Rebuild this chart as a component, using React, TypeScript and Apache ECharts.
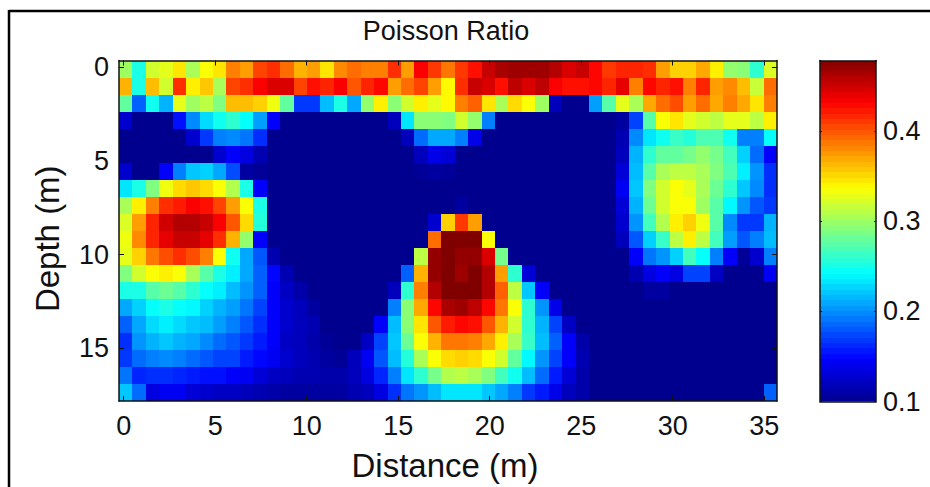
import React, { useEffect, useRef } from "react";
import * as echarts from "echarts";

// Colour-scale readings (percent of the colour bar) per depth row, 49 distance columns.
const row00 = [53,40,58,60,65,54,62,65,75,72,81,83,77,70,72,65,74,77,75,75,83,72,88,82,76,82,86,93,96,97,97,97,95,91,93,87,82,84,84,83,72,67,67,71,64,52,51,42,59];
const row01 = [70,40,69,58,83,64,68,54,81,83,88,91,91,81,86,84,88,79,84,87,72,77,81,72,63,83,93,91,86,94,91,94,88,86,86,87,84,90,75,87,84,86,75,84,72,74,69,57,77];
const row02 = [47,22,39,30,60,53,56,50,69,69,67,61,47,18,18,31,40,29,52,64,51,58,64,60,63,75,78,65,54,66,62,53,5,0,0,28,46,60,54,71,77,80,72,77,71,75,71,65,75];
const row03 = [7,0,0,0,14,26,34,39,42,38,28,12,0,0,0,0,0,0,0,0,5,35,51,51,50,58,52,25,0,0,0,0,0,0,0,0,0,2,19,46,62,65,60,58,56,60,60,56,64];
const row04 = [0,0,0,0,0,7,18,25,26,24,17,0,0,0,0,0,0,0,0,0,0,5,23,29,29,25,10,0,0,0,0,0,0,0,0,0,0,4,26,35,39,43,41,45,45,39,25,25,38];
const row05 = [0,0,0,0,0,0,0,7,12,9,4,0,0,0,0,0,0,0,0,0,0,0,5,10,8,0,0,0,0,0,0,0,0,0,0,0,0,5,30,42,47,47,49,52,49,44,33,23,12];
const row06 = [7,0,0,12,25,32,33,29,20,2,1,0,0,0,0,0,0,0,0,0,0,0,1,2,1,0,0,0,0,0,0,0,0,0,0,0,0,8,31,46,54,56,56,54,50,45,36,27,17];
const row07 = [35,40,50,61,66,68,66,62,55,40,12,0,0,0,0,0,0,0,0,0,0,0,0,0,0,0,0,0,0,0,0,0,0,0,0,0,0,11,32,50,58,62,60,54,48,42,32,26,17];
const row08 = [54,64,75,83,85,88,86,81,72,62,40,0,0,0,0,0,0,0,0,0,0,0,0,0,0,2,0,0,0,0,0,0,0,0,0,0,0,8,30,48,58,62,62,53,46,37,27,21,18];
const row09 = [59,72,84,92,95,95,93,88,79,66,41,0,0,0,0,0,0,0,0,0,0,0,0,7,67,82,72,0,0,0,0,0,0,0,0,0,0,7,27,44,55,64,67,61,46,26,18,18,30];
const row10 = [61,74,84,90,93,93,90,83,70,52,12,0,0,0,0,0,0,0,0,0,0,0,0,77,100,100,100,62,0,0,0,0,0,0,0,0,0,5,21,33,43,56,64,56,44,28,21,25,31];
const row11 = [60,67,76,80,83,80,75,62,39,29,21,4,0,0,0,0,0,0,0,0,0,0,56,98,100,98,98,91,49,0,0,0,0,0,0,0,0,0,12,24,27,33,44,38,25,12,1,7,25];
const row12 = [50,58,62,64,62,54,46,40,36,29,22,13,4,0,0,0,0,0,0,0,0,22,70,98,100,97,100,95,72,42,8,0,0,0,0,0,0,0,4,9,12,9,19,19,6,0,0,0,11];
const row13 = [40,40,46,48,46,42,38,36,31,27,22,12,6,3,0,0,0,0,0,0,5,42,75,95,100,100,100,95,78,56,32,12,0,0,0,0,0,0,0,2,2,0,0,0,0,0,0,0,0];
const row14 = [29,33,38,40,38,37,33,30,28,24,19,12,7,5,2,0,0,0,0,0,25,51,71,87,96,97,94,87,76,62,42,27,10,0,0,0,0,0,0,0,0,0,0,0,0,0,0,0,0];
const row15 = [22,29,34,36,34,32,31,28,25,21,17,12,7,5,4,0,0,0,0,12,31,51,65,79,85,87,86,79,70,58,42,30,19,6,0,0,0,0,0,0,0,0,0,0,0,0,0,0,0];
const row16 = [17,27,30,32,30,29,26,23,21,18,15,12,6,5,3,1,0,0,6,19,32,48,62,70,76,76,75,71,64,54,43,31,22,12,3,0,0,0,0,0,0,0,0,0,0,0,0,0,0];
const row17 = [18,23,25,26,25,23,21,19,19,15,13,11,7,5,4,2,1,5,11,21,31,41,54,62,66,67,66,62,58,47,37,27,19,12,4,0,0,0,0,0,0,0,0,0,0,0,0,0,0];
const row18 = [24,16,17,17,16,15,14,14,12,11,8,6,5,4,4,3,3,5,9,16,25,35,42,49,55,56,54,50,44,39,31,23,15,8,3,0,0,0,0,0,0,0,0,0,0,0,0,0,0];
const row19 = [32,23,9,11,11,8,7,6,6,5,4,3,2,2,2,2,2,4,5,9,17,24,27,31,35,35,35,32,29,25,18,15,10,5,3,0,0,0,0,0,0,0,0,0,0,0,0,0,22];
const levelRows = [row00,row01,row02,row03,row04,row05,row06,row07,row08,row09,row10,row11,row12,row13,row14,row15,row16,row17,row18,row19];

const xTicks = [0, 5, 10, 15, 20, 25, 30, 35];
const yTicks = [0, 5, 10, 15];
const barTicks = [0.1, 0.2, 0.3, 0.4];
const jetStops = ["#00008f","#0000ff","#0080ff","#00ffff","#80ff80","#ffff00","#ff8000","#ff0000","#800000"];

const ratioMin = 0.1;
const ratioMax = 0.478;
const xMin = -0.257, xMax = 35.70;
const yMin = -0.363, yMax = 17.82;
const cellW = (xMax - xMin) / 49;
const cellH = (yMax - yMin) / 20;
const barSteps = 64;
const barStep = (ratioMax - ratioMin) / barSteps;

const toRatio = (level: number) => ratioMin + (level / 100) * (ratioMax - ratioMin);

const cells: number[][] = [];
levelRows.forEach((row, r) => row.forEach((lv, c) => cells.push([xMin + c * cellW, yMin + r * cellH, toRatio(lv)])));
const barCells: number[][] = [];
for (let i = 0; i < barSteps; i++) barCells.push([0, ratioMin + i * barStep, ratioMin + (i + 0.5) * barStep]);

const FONT = "'Liberation Sans', Arial, sans-serif";
const INK = "#111";

const rectFrom = (api: any, a: number[], b: number[]) => {
  const p = api.coord(a), q = api.coord(b);
  const x0 = Math.round(Math.min(p[0], q[0])), x1 = Math.round(Math.max(p[0], q[0]));
  const y0 = Math.round(Math.min(p[1], q[1])), y1 = Math.round(Math.max(p[1], q[1]));
  return {
    type: "rect",
    shape: { x: x0, y: y0, width: x1 - x0, height: y1 - y0 },
    style: { fill: api.visual("color"), stroke: null },
  };
};

const hiddenAxis = { axisLabel: { show: false }, axisTick: { show: false }, splitLine: { show: false } };
const line = { show: true, onZero: false, lineStyle: { color: INK, width: 1.5 } };

export default function App() {
  const ref = useRef<HTMLDivElement>(null);
  useEffect(() => {
    const chart = echarts.init(ref.current!, null, { renderer: "svg" });
    const tick = (vals: number[]) => ({ show: true, inside: true, length: 5, customValues: vals, lineStyle: { color: INK, width: 1 } });
    chart.setOption({
      animation: false,
      backgroundColor: "#fff",
      title: {
        text: "Poisson Ratio",
        left: 441,
        top: 12,
        textAlign: "center",
        textStyle: { fontFamily: FONT, fontSize: 27, fontWeight: "normal", color: INK },
      },
      grid: [
        { left: 119, top: 60.5, width: 658, height: 340.5 },
        { left: 820, top: 60.5, width: 56, height: 341 },
      ],
      xAxis: [
        {
          type: "value", gridIndex: 0, min: xMin, max: xMax, position: "bottom", z: 10, axisLine: line,
          axisTick: tick(xTicks), splitLine: { show: false },
          axisLabel: { customValues: xTicks, margin: 11, fontFamily: FONT, fontSize: 27, color: INK },
          name: "Distance (m)", nameLocation: "middle", nameGap: 48,
          nameTextStyle: { fontFamily: FONT, fontSize: 33, color: INK, padding: [0, 6, 0, 0] },
        },
        { type: "value", gridIndex: 0, min: xMin, max: xMax, position: "top", z: 10, axisLine: line, axisTick: tick(xTicks), axisLabel: { show: false }, splitLine: { show: false } },
        { type: "value", gridIndex: 1, min: 0, max: 1, position: "bottom", z: 10, axisLine: line, ...hiddenAxis },
        { type: "value", gridIndex: 1, min: 0, max: 1, position: "top", z: 10, axisLine: line, ...hiddenAxis },
      ],
      yAxis: [
        {
          type: "value", gridIndex: 0, min: yMin, max: yMax, inverse: true, position: "left", z: 10, axisLine: line,
          axisTick: tick(yTicks), splitLine: { show: false },
          axisLabel: { customValues: yTicks, margin: 10, fontFamily: FONT, fontSize: 27, color: INK },
          name: "Depth (m)", nameLocation: "middle", nameGap: 55, nameRotate: 90,
          nameTextStyle: { fontFamily: FONT, fontSize: 33, color: INK, padding: [0, 16, 0, 0] },
        },
        { type: "value", gridIndex: 0, min: yMin, max: yMax, inverse: true, position: "right", z: 10, axisLine: line, axisTick: tick(yTicks), axisLabel: { show: false }, splitLine: { show: false } },
        {
          type: "value", gridIndex: 1, min: ratioMin, max: ratioMax, position: "right", z: 10, axisLine: line,
          axisTick: { ...tick(barTicks), length: 2 }, splitLine: { show: false },
          axisLabel: { customValues: barTicks, margin: 7, fontFamily: FONT, fontSize: 27, color: INK },
        },
        { type: "value", gridIndex: 1, min: ratioMin, max: ratioMax, position: "left", z: 10, axisLine: line, axisTick: { ...tick(barTicks), length: 2 }, axisLabel: { show: false }, splitLine: { show: false } },
      ],
      visualMap: { show: false, type: "continuous", min: ratioMin, max: ratioMax, dimension: 2, seriesIndex: [0, 1], inRange: { color: jetStops } },
      series: [
        {
          type: "custom", xAxisIndex: 0, yAxisIndex: 0, data: cells, clip: true,
          renderItem: (_: any, api: any) => {
            const x = api.value(0), y = api.value(1);
            return rectFrom(api, [x, y], [x + cellW, y + cellH]);
          },
        },
        {
          type: "custom", xAxisIndex: 2, yAxisIndex: 2, data: barCells, clip: true,
          renderItem: (_: any, api: any) => {
            const y = api.value(1);
            return rectFrom(api, [0, y], [1, y + barStep]);
          },
        },
      ],
      graphic: [
        { type: "line", shape: { x1: 9, y1: 11, x2: 930, y2: 11 }, style: { stroke: "#000", lineWidth: 2.5 } },
        { type: "line", shape: { x1: 9, y1: 10, x2: 9, y2: 487 }, style: { stroke: "#000", lineWidth: 2.5 } },
      ],
    });
    return () => chart.dispose();
  }, []);
  return <div ref={ref} style={{ position: "fixed", left: 0, top: 0, width: 930, height: 487 }} />;
}
